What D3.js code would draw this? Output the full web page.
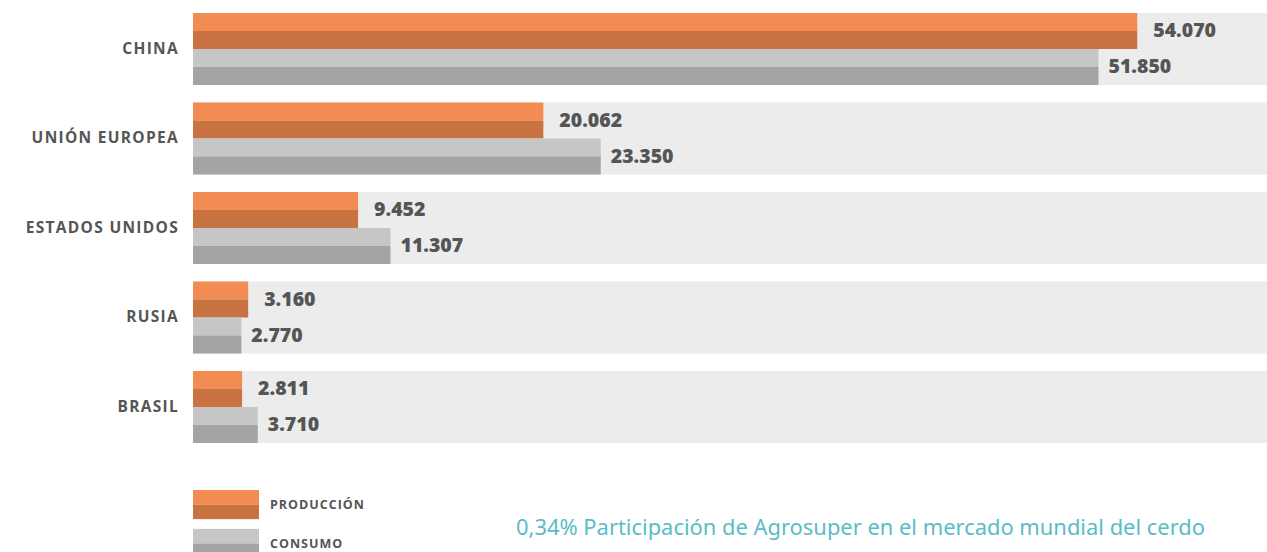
<!DOCTYPE html>
<html><head><meta charset="utf-8">
<script src="https://cdn.jsdelivr.net/npm/d3@7"></script>
<style>body{margin:0;background:#fff}svg{display:block}</style>
</head><body>
<svg id="c" width="1267" height="552"></svg>
<script>
const categories = ["CHINA","UNIÓN EUROPEA","ESTADOS UNIDOS","RUSIA","BRASIL"];
const produccion = [54070, 20062, 9452, 3160, 2811];
const consumo = [51850, 23350, 11307, 2770, 3710];
const valueLabelsProd = ["54.070","20.062","9.452","3.160","2.811"];
const valueLabelsCons = ["51.850","23.350","11.307","2.770","3.710"];
const seriesNames = ["PRODUCCIÓN","CONSUMO"];
const footnote = "0,34% Participación de Agrosuper en el mercado mundial del cerdo";

const colors = {
  prod: ["#F28C52","#C87341"],
  cons: ["#C6C6C6","#A4A4A4"],
  bg: "#ECECEC", text: "#555555", foot: "#5BBCC8"
};

const svg = d3.select("#c");
const x = d3.scaleLinear().domain([0, 61500]).range([193, 1267]);
const y = d3.scaleBand().domain(categories).range([13, 443]).paddingInner(0.1955).paddingOuter(0);
const sub = d3.scaleBand().domain(["prod","cons"]).range([0, y.bandwidth()]);

const data = categories.map((c,i)=>({c, prod: produccion[i], cons: consumo[i], lp: valueLabelsProd[i], lc: valueLabelsCons[i]}));

const g = svg.append("g");
g.selectAll("rect.bg").data(data).join("rect")
  .attr("x", x(0)).attr("y", d=>y(d.c)).attr("width", 1267 - x(0)).attr("height", y.bandwidth())
  .attr("fill", colors.bg);

function twoTone(sel, key, cols){
  const h = sub.bandwidth();
  sel.append("rect").attr("x", x(0)).attr("y", d=>y(d.c)+sub(key)).attr("width", d=>x(d[key])-x(0)).attr("height", h/2).attr("fill", cols[0]);
  sel.append("rect").attr("x", x(0)).attr("y", d=>y(d.c)+sub(key)+h/2).attr("width", d=>x(d[key])-x(0)).attr("height", h/2).attr("fill", cols[1]);
}
const rows = g.selectAll("g.row").data(data).join("g").attr("class","row");
rows.each(function(d){
  const s = d3.select(this).datum(d);
  twoTone(s, "prod", colors.prod);
  twoTone(s, "cons", colors.cons);
});

const vFont = "'Open Sans', sans-serif";
rows.append("text").attr("x", d=>x(d.prod)+16).attr("y", d=>y(d.c)+sub("prod")+sub.bandwidth()/2 - 1)
  .attr("dy","0.36em").text(d=>d.lp)
  .attr("font-family", vFont).attr("font-weight", 800).attr("font-size", 19.5).attr("fill", colors.text);
rows.append("text").attr("x", d=>x(d.cons)+10).attr("y", d=>y(d.c)+sub("cons")+sub.bandwidth()/2 - 1)
  .attr("dy","0.36em").text(d=>d.lc)
  .attr("font-family", vFont).attr("font-weight", 800).attr("font-size", 19.5).attr("fill", colors.text);

const yAxis = d3.axisLeft(y).tickSize(0).tickPadding(14);
const ax = svg.append("g").attr("transform", `translate(${x(0)},0)`).call(yAxis);
ax.select(".domain").remove();
ax.selectAll("text").attr("font-family","'Open Sans', sans-serif").attr("font-weight",700)
  .attr("font-size",15.5).attr("letter-spacing","1.3px").attr("fill",colors.text);

const legY = d3.scaleBand().domain(seriesNames).range([490, 558]).paddingInner(0.25);
const leg = svg.append("g");
seriesNames.forEach((n,i)=>{
  const cols = i===0 ? colors.prod : colors.cons;
  const y0 = legY(n), h = legY.bandwidth();
  leg.append("rect").attr("x",193).attr("y",y0).attr("width",66).attr("height",h/2).attr("fill",cols[0]);
  leg.append("rect").attr("x",193).attr("y",y0+h/2).attr("width",66).attr("height",h/2).attr("fill",cols[1]);
  leg.append("text").attr("x",270).attr("y",y0+h/2).attr("dy","0.36em").text(n)
    .attr("font-family","'Open Sans', sans-serif").attr("font-weight",700).attr("font-size",12.5)
    .attr("letter-spacing","1px").attr("fill",colors.text);
});

svg.append("text").attr("x",516).attr("y",535).text(footnote)
  .attr("font-family","'Noto Sans', sans-serif").attr("font-size",21.5).attr("fill",colors.foot)
  .attr("textLength", 689).attr("lengthAdjust","spacingAndGlyphs");
</script>
</body></html>
